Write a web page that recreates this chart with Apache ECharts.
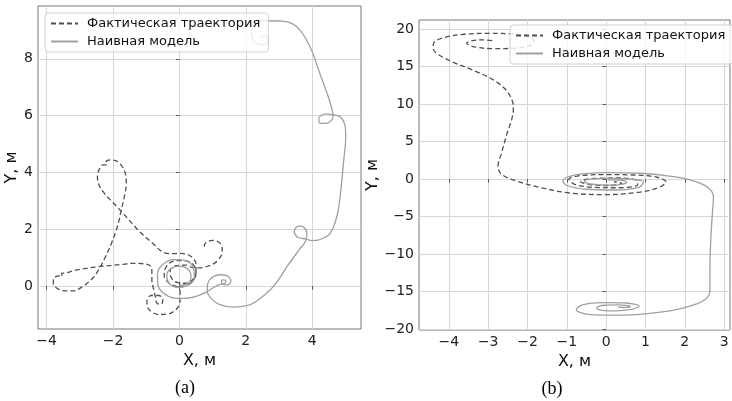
<!DOCTYPE html>
<html>
<head>
<meta charset="utf-8">
<script src="https://cdn.jsdelivr.net/npm/echarts@6/dist/echarts.min.js"></script>
<style>
  html, body { margin: 0; padding: 0; background: #fff; }
  #chart { width: 732px; height: 401px; }
</style>
</head>
<body>
<div id="chart"></div>
<script>
// (a) trajectories, [x, y] in metres
const actualA = [
  [0.0, 0.15], [0.02, -0.1], [0.02, -0.4], [-0.03, -0.72], [-0.28, -0.96], [-0.63, -1.0],
  [-0.92, -0.82], [-0.98, -0.52], [-0.85, -0.33], [-0.62, -0.33], [-0.5, -0.47], [-0.55, -0.64],
  [-0.68, -0.6], [-0.72, -0.4], [-0.78, -0.1], [-0.83, 0.22], [-0.83, 0.5], [-0.86, 0.7],
  [-1.04, 0.78], [-1.4, 0.8], [-1.75, 0.76], [-2.45, 0.68], [-3.15, 0.56], [-3.42, 0.46],
  [-3.55, 0.45], [-3.53, 0.35], [-3.62, 0.36], [-3.78, 0.28], [-3.8, 0.1], [-3.7, -0.07],
  [-3.5, -0.16], [-3.2, -0.17], [-2.9, 0.0], [-2.62, 0.27], [-2.42, 0.6], [-2.25, 0.98],
  [-2.05, 1.5], [-1.87, 2.09], [-1.75, 2.68], [-1.64, 3.26], [-1.6, 3.62], [-1.63, 3.97],
  [-1.75, 4.25], [-1.92, 4.42], [-2.08, 4.44], [-2.22, 4.36], [-2.2, 4.27], [-2.3, 4.27],
  [-2.42, 4.1], [-2.47, 3.85], [-2.42, 3.55], [-2.25, 3.25], [-2.05, 3.0], [-1.75, 2.63],
  [-1.25, 1.98], [-0.8, 1.5], [-0.45, 1.17], [-0.2, 1.14], [0.05, 1.15], [0.33, 1.06],
  [0.5, 0.78], [0.5, 0.42], [0.35, 0.12], [0.05, -0.03], [-0.28, 0.08], [-0.46, 0.38],
  [-0.4, 0.68], [-0.18, 0.88], [0.12, 0.9], [0.4, 0.78], [0.5, 0.5], [0.42, 0.25],
  [0.2, 0.1], [-0.05, 0.12], [-0.25, 0.3], [-0.28, 0.55], [-0.1, 0.72], [0.2, 0.74],
  [0.42, 0.64], [0.62, 0.64], [0.83, 0.69], [1.05, 0.8], [1.2, 0.97], [1.29, 1.18],
  [1.28, 1.4], [1.18, 1.55], [1.0, 1.61], [0.84, 1.56], [0.75, 1.43], [0.79, 1.3]
];
const naiveA = [
  [0.05, 0.02], [0.28, 0.12], [0.35, 0.35], [0.25, 0.6], [0.0, 0.7], [-0.28, 0.6],
  [-0.38, 0.35], [-0.3, 0.08], [-0.05, -0.04], [0.25, 0.02], [0.45, 0.28], [0.43, 0.62],
  [0.22, 0.88], [-0.15, 0.93], [-0.48, 0.78], [-0.66, 0.45], [-0.65, 0.05], [-0.45, -0.28],
  [-0.15, -0.42], [0.15, -0.43], [0.5, -0.36], [0.8, -0.22], [1.02, -0.06], [1.2, 0.05],
  [1.36, 0.1], [1.4, 0.2], [1.28, 0.22], [1.27, 0.1], [1.45, 0.04], [1.55, 0.2],
  [1.43, 0.37], [1.2, 0.4], [0.98, 0.3], [0.85, 0.08], [0.84, -0.18], [0.96, -0.44],
  [1.2, -0.64], [1.63, -0.74], [2.0, -0.7], [2.3, -0.55], [2.73, -0.14], [3.0, 0.25],
  [3.25, 0.7], [3.64, 1.33], [3.79, 1.56], [3.84, 1.84], [3.75, 2.07], [3.58, 2.11],
  [3.46, 1.92], [3.56, 1.72], [3.8, 1.66], [3.99, 1.6], [4.24, 1.64], [4.54, 1.86],
  [4.74, 2.44], [4.84, 3.14], [4.94, 4.32], [5.01, 5.26], [4.98, 5.7], [4.84, 5.96],
  [4.64, 6.03], [4.39, 6.06], [4.2, 5.9], [4.25, 5.73], [4.49, 5.75], [4.63, 5.98],
  [4.58, 6.3], [4.46, 6.75], [4.32, 7.2], [4.18, 7.65], [4.02, 8.2], [3.85, 8.62],
  [3.64, 9.0], [3.4, 9.24], [3.1, 9.33], [2.63, 9.34], [2.38, 9.3], [2.2, 9.12],
  [2.18, 8.88], [2.28, 8.58], [2.53, 8.49], [2.68, 8.66], [2.58, 8.82], [2.46, 8.74]
];

// (b) trajectories
const actualB = [
  [-2.9, 18.45], [-3.15, 18.56], [-3.4, 18.45], [-3.55, 18.1], [-3.35, 17.62], [-2.87, 17.38],
  [-2.3, 17.45], [-1.92, 17.85], [-1.83, 18.4], [-1.95, 18.95], [-2.4, 19.35], [-3.0, 19.42],
  [-3.6, 19.3], [-4.1, 18.9], [-4.38, 18.2], [-4.4, 17.4], [-4.3, 16.7], [-3.9, 15.6],
  [-3.38, 14.5], [-2.88, 13.25], [-2.55, 11.9], [-2.38, 10.3], [-2.36, 9.3], [-2.4, 8.0],
  [-2.52, 6.1], [-2.66, 3.5], [-2.75, 1.7], [-2.66, 0.65], [-2.3, -0.2], [-1.77, -1.0],
  [-0.92, -1.85], [0.0, -2.06], [0.86, -1.72], [1.37, -1.05], [1.52, -0.36], [1.3, 0.25],
  [0.7, 0.55], [0.0, 0.6], [-0.6, 0.5], [-0.95, 0.0], [-0.8, -0.7], [-0.3, -1.1],
  [0.35, -1.15], [0.8, -0.75], [0.75, -0.1], [0.3, 0.15], [-0.3, 0.1], [-0.65, -0.3],
  [-0.4, -0.75], [0.1, -0.85], [0.4, -0.55], [0.2, -0.35]
];
const naiveB = [
  [0.05, -0.1], [0.4, -0.15], [0.52, -0.4], [0.35, -0.72], [0.0, -0.8], [-0.4, -0.65],
  [-0.55, -0.3], [-0.35, 0.02], [0.05, 0.1], [0.55, 0.02], [0.95, -0.35], [0.85, -1.05],
  [0.25, -1.45], [-0.5, -1.35], [-1.0, -0.85], [-1.1, -0.2], [-0.88, 0.45], [-0.45, 0.78],
  [0.01, 0.86], [0.86, 0.78], [1.71, 0.33], [2.3, -0.36], [2.62, -1.24], [2.73, -2.4],
  [2.71, -4.0], [2.67, -7.2], [2.64, -11.7], [2.64, -14.8], [2.55, -15.9], [2.21, -16.8],
  [1.62, -17.56], [0.77, -18.04], [0.09, -18.12], [-0.5, -17.98], [-0.76, -17.4], [-0.6, -16.75],
  [-0.08, -16.44], [0.5, -16.5], [0.84, -16.93], [0.6, -17.38], [0.09, -17.56], [-0.2, -17.38],
  [-0.24, -17.15], [-0.05, -16.8], [0.3, -16.75], [0.62, -16.97], [0.45, -17.1], [0.3, -17.02]
];

const ticksAX = [-4, -2, 0, 2, 4];
const ticksAY = [0, 2, 4, 6, 8];
const ticksBX = [-4, -3, -2, -1, 0, 1, 2, 3];
const ticksBY = [-20, -15, -10, -5, 0, 5, 10, 15, 20];

const seriesNames = ["Фактическая траектория", "Наивная модель"];

const font = "DejaVu Sans";
const chart = echarts.init(document.getElementById("chart"));

const makeAxis = (gridIndex, min, max, ticks, name, nameGap, isY) => ({
  type: "value",
  gridIndex,
  min,
  max,
  name,
  nameLocation: "middle",
  nameGap,
  nameRotate: isY ? 90 : 0,
  nameTextStyle: { fontFamily: font, fontSize: 16, color: "#111" },
  axisLine: { show: false },
  axisTick: {
    show: true,
    length: 3.5,
    customValues: ticks,
    lineStyle: { color: "#555" },
  },
  axisLabel: {
    customValues: ticks,
    color: "#222",
    fontFamily: font,
    fontSize: 14,
    margin: 5,
    formatter: (v) => String(v).replace("-", "\u2212"),
  },
  splitLine: { show: true, lineStyle: { color: "#d6d6d6", width: 1 } },
});

const dashed = { color: "#505050", width: 1.3, type: [5, 3] };
const solid = { color: "#a0a0a0", width: 1.3, type: "solid" };

const makeSeries = (name, data, idx, lineStyle) => ({
  name,
  type: "line",
  xAxisIndex: idx,
  yAxisIndex: idx,
  data,
  symbol: "none",
  smooth: 0.35,
  color: lineStyle.color,
  lineStyle,
  animation: false,
});

const makeLegend = (left, top) => ({
  data: seriesNames,
  orient: "vertical",
  left,
  top,
  itemWidth: 27,
  itemHeight: 14,
  itemGap: 5,
  padding: [4, 8, 4, 5],
  itemStyle: { opacity: 0 },
  backgroundColor: "rgba(255,255,255,0.8)",
  borderColor: "#d0d0d0",
  borderWidth: 1,
  borderRadius: 3,
  textStyle: { fontFamily: font, fontSize: 13, color: "#111", padding: [0, 0, 0, 4] },
});

const option = {
  animation: false,
  grid: [
    { left: 38, top: 6, width: 323, height: 323, show: true, borderColor: "#777", borderWidth: 1 },
    { left: 419, top: 20, width: 311, height: 310, show: true, borderColor: "#777", borderWidth: 1 },
  ],
  xAxis: [
    makeAxis(0, -4.26, 5.47, ticksAX, "X, м", 15, false),
    makeAxis(1, -4.76, 3.15, ticksBX, "X, м", 15, false),
  ],
  yAxis: [
    makeAxis(0, -1.51, 9.86, ticksAY, "Y, м", 18, true),
    makeAxis(1, -20.1, 21.2, ticksBY, "Y, м", 27, true),
  ],
  legend: [makeLegend(45, 13), makeLegend(510, 25)],
  series: [
    makeSeries(seriesNames[0], actualA, 0, dashed),
    makeSeries(seriesNames[1], naiveA, 0, solid),
    makeSeries(seriesNames[0], actualB, 1, dashed),
    makeSeries(seriesNames[1], naiveB, 1, solid),
  ],
  graphic: [
    {
      type: "text",
      x: 185,
      y: 388,
      style: { text: "(a)", fill: "#000", font: '18px "Liberation Serif", serif', align: "center", verticalAlign: "middle" },
    },
    {
      type: "text",
      x: 552,
      y: 389,
      style: { text: "(b)", fill: "#000", font: '18px "Liberation Serif", serif', align: "center", verticalAlign: "middle" },
    },
  ],
};

chart.setOption(option);
</script>
</body>
</html>
